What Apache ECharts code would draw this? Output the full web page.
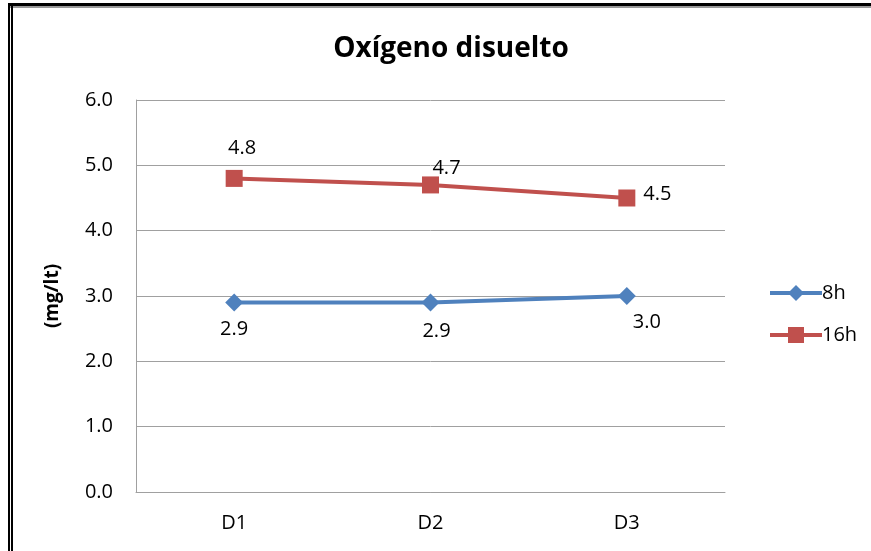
<!DOCTYPE html>
<html><head><meta charset="utf-8">
<script src="https://cdn.jsdelivr.net/npm/echarts@6/dist/echarts.min.js"></script>
<style>html,body{margin:0;padding:0;background:#fff}#c{width:871px;height:551px}</style>
</head><body><div id="c"></div>
<script>
const categories = ['D1', 'D2', 'D3'];
const s8h = [2.9, 2.9, 3.0];
const s16h = [4.8, 4.7, 4.5];
const yTicks = [0, 1, 2, 3, 4, 5, 6];

const font = '"Open Sans", "Noto Sans", sans-serif';
const fs = 20;
const chart = echarts.init(document.getElementById('c'));
const lab8 = [{position:'bottom', offset:[0,-2]}, {position:'bottom', offset:[6,0]}, {position:'bottom', offset:[20,-3]}];
const lab16 = [{position:'top', offset:[8,-2]}, {position:'top', offset:[16,12]}, {position:'right', offset:[-2,-4]}];

chart.setOption({
  animation: false,
  title: { text: 'Oxígeno disuelto', left: 446, top: 30, textAlign: 'center',
    textStyle: { fontFamily: font, fontSize: 28, fontWeight: 'bold', color: '#000' } },
  grid: { left: 136, right: 146, top: 100, bottom: 59 },
  legend: { orient: 'vertical', left: 763, top: 278, itemGap: 22, itemWidth: 52, itemHeight: 20,
    textStyle: { fontFamily: font, fontSize: fs, color: '#000', padding: [0,0,0,-5] },
    data: [
      { name: '8h', lineStyle: { width: 4 } },
      { name: '16h', lineStyle: { width: 4 } }
    ] },
  xAxis: { type: 'category', data: categories, boundaryGap: true,
    axisLine: { lineStyle: { color: '#A0A0A0' } }, axisTick: { show: false },
    axisLabel: { fontFamily: font, fontSize: fs, color: '#000', margin: 21 } },
  yAxis: { type: 'value', min: yTicks[0], max: yTicks[yTicks.length-1], interval: 1,
    name: '(mg/lt)', nameLocation: 'middle', nameGap: 74, nameRotate: 90,
    nameTextStyle: { fontFamily: font, fontSize: 19, fontWeight: 'bold', color: '#000' },
    axisLine: { show: true, lineStyle: { color: '#A0A0A0' } }, axisTick: { show: false },
    splitLine: { lineStyle: { color: '#A0A0A0' } },
    axisLabel: { fontFamily: font, fontSize: fs, color: '#000', margin: 23, formatter: v => v.toFixed(1) } },
  series: [
    { name: '8h', type: 'line', data: s8h.map((v,i)=>({value:v, label:lab8[i]})), symbol: 'diamond', symbolSize: 18,
      itemStyle: { color: '#4F81BD' }, lineStyle: { width: 4, color: '#4F81BD' },
      label: { show: true, fontFamily: font, fontSize: fs, color: '#000', distance: 10, formatter: p => p.value.toFixed(1) } },
    { name: '16h', type: 'line', data: s16h.map((v,i)=>({value:v, label:lab16[i]})), symbol: 'rect', symbolSize: 17,
      itemStyle: { color: '#C0504D' }, lineStyle: { width: 4, color: '#C0504D' },
      label: { show: true, fontFamily: font, fontSize: fs, color: '#000', distance: 10, formatter: p => p.value.toFixed(1) } }
  ],
  graphic: [
    { type: 'rect', shape: { x: 8, y: 3, width: 900, height: 3 }, style: { fill: '#000' } },
    { type: 'rect', shape: { x: 8, y: 6, width: 900, height: 2 }, style: { fill: '#999' } },
    { type: 'rect', shape: { x: 8, y: 3, width: 2, height: 560 }, style: { fill: '#000' } },
    { type: 'rect', shape: { x: 11, y: 6, width: 2, height: 560 }, style: { fill: '#000' } }
  ]
});
</script></body></html>
